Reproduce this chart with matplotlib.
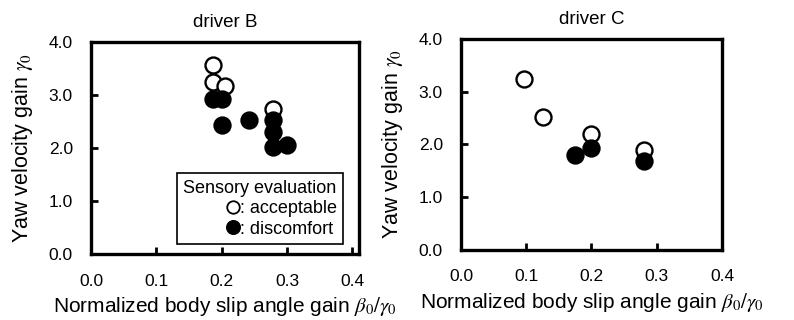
import matplotlib
matplotlib.use('Agg')
import matplotlib.pyplot as plt
from matplotlib.lines import Line2D

plt.rcParams['font.family'] = ['Liberation Sans', 'DejaVu Sans']
plt.rcParams['mathtext.fontset'] = 'stix'

# driver B
b_ok_x = [0.187, 0.187, 0.205, 0.279]
b_ok_y = [3.57, 3.24, 3.16, 2.73]
b_bad_x = [0.187, 0.201, 0.200, 0.241, 0.279, 0.279, 0.279, 0.300]
b_bad_y = [2.92, 2.92, 2.43, 2.53, 2.53, 2.31, 2.02, 2.06]

# driver C
c_ok_x = [0.097, 0.125, 0.200, 0.280]
c_ok_y = [3.25, 2.53, 2.20, 1.90]
c_bad_x = [0.175, 0.200, 0.280]
c_bad_y = [1.80, 1.94, 1.68]

xticks = [0.0, 0.1, 0.2, 0.3, 0.4]
yticks = [0.0, 1.0, 2.0, 3.0, 4.0]

fig = plt.figure(figsize=(7.94, 3.2), dpi=100)
ax1 = fig.add_axes([0.1146, 0.206, 0.3375, 0.663])
ax2 = fig.add_axes([0.5806, 0.219, 0.3287, 0.659])

ms = 11.5
mew = 1.7

def style(ax, title, xmax):
    ax.set_xlim(0, xmax)
    ax.set_ylim(0, 4.0)
    ax.set_xticks(xticks)
    ax.set_yticks(yticks)
    ax.set_xticklabels([f'{v:.1f}' for v in xticks])
    ax.set_yticklabels([f'{v:.1f}' for v in yticks])
    ax.tick_params(direction='in', length=5, width=2, labelsize=12.5)
    ax.tick_params(axis='x', pad=14)
    ax.tick_params(axis='y', pad=13)
    for s in ax.spines.values():
        s.set_linewidth(2.4)
    ax.set_title(title, fontsize=13.5, pad=10.5)
    ax.set_xlabel(r'Normalized body slip angle gain $\beta_0/\gamma_0$', fontsize=15, labelpad=5)
    ax.set_ylabel(r'Yaw velocity gain $\gamma_0$', fontsize=15.5, labelpad=10)

for ax, ox, oy, bx, by in [(ax1, b_ok_x, b_ok_y, b_bad_x, b_bad_y),
                            (ax2, c_ok_x, c_ok_y, c_bad_x, c_bad_y)]:
    ax.plot(bx, by, 'o', ms=ms, mfc='black', mec='black', mew=mew, ls='none', zorder=3)
    ax.plot(ox, oy, 'o', ms=ms, mfc='white', mec='black', mew=mew, ls='none', zorder=2)

style(ax1, 'driver B', 0.41)
style(ax2, 'driver C', 0.4)

handles = [Line2D([], [], marker='o', ls='none', ms=9, mfc='white', mec='black', mew=1.3),
           Line2D([], [], marker='o', ls='none', ms=9.5, mfc='black', mec='black', mew=1.3)]
leg = ax1.legend(handles, [': acceptable', ': discomfort'], title='Sensory evaluation',
                 loc='lower right', bbox_to_anchor=(0.94, 0.047), borderaxespad=0,
                 fontsize=13, title_fontsize=13, handlelength=0.7, handletextpad=0.0,
                 labelspacing=0.2, alignment='right', fancybox=False, framealpha=1,
                 edgecolor='black', borderpad=0.35)
leg.get_frame().set_linewidth(1.2)

fig.savefig('out.png', dpi=100)
